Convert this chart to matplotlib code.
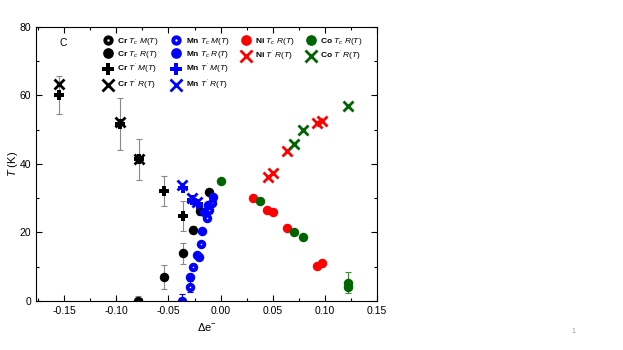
import matplotlib.pyplot as plt

plt.rcParams['font.family'] = ['Liberation Sans', 'DejaVu Sans']
plt.rcParams['mathtext.fontset'] = 'custom'
plt.rcParams['mathtext.it'] = 'Liberation Sans:italic'
plt.rcParams['mathtext.rm'] = 'Liberation Sans'

# Cr
cr_tc_m_x = [-0.079]
cr_tc_m_y = [0.1]
cr_tc_r_x = [-0.054, -0.036, -0.026, -0.020, -0.0113]
cr_tc_r_y = [7.0, 13.9, 20.8, 26.2, 31.8]
cr_tc_r_err = [3.5, 3.0, 1.0, 1.0, 1.0]
cr_tp_m_x = [-0.155, -0.097, -0.078, -0.054, -0.036]
cr_tp_m_y = [60.1, 51.6, 41.4, 32.1, 24.9]
cr_tp_m_err = [5.6, 7.6, 6.0, 4.5, 4.4]
cr_tp_r_x = [-0.155, -0.097, -0.078]
cr_tp_r_y = [63.3, 52.3, 41.4]

# Mn
mn_tc_m_x = [-0.029, -0.026, -0.0186, -0.013, -0.0115, -0.0084]
mn_tc_m_y = [4.2, 9.8, 16.5, 24.1, 26.5, 28.7]
mn_tc_r_x = [-0.037, -0.029, -0.0227, -0.0205, -0.018, -0.0164, -0.0117, -0.0069]
mn_tc_r_y = [0.1, 7.1, 13.4, 12.9, 20.4, 26.0, 28.0, 30.4]
mn_tp_m_x = [-0.036, -0.027, -0.022]
mn_tp_m_y = [33.0, 29.6, 28.4]
mn_tp_r_x = [-0.037, -0.0275, -0.0227]
mn_tp_r_y = [33.8, 30.2, 28.9]

# Ni
ni_tc_r_x = [0.0312, 0.045, 0.0503, 0.0636, 0.0925, 0.097]
ni_tc_r_y = [30.1, 26.6, 25.9, 21.4, 10.3, 11.1]
ni_tp_r_x = [0.0455, 0.0503, 0.0636, 0.0922, 0.097]
ni_tp_r_y = [36.2, 37.5, 43.7, 52.1, 52.5]

# Co
co_tc_r_x = [0.0, 0.0376, 0.0703, 0.0789, 0.1223, 0.1223]
co_tc_r_y = [35.0, 29.1, 20.0, 18.7, 5.4, 4.2]
co_tp_r_x = [0.0709, 0.0795, 0.1223]
co_tp_r_y = [45.7, 49.8, 56.9]

fig = plt.figure(figsize=(6.23, 3.5), dpi=100)
ax = fig.add_axes([0.058, 0.14, 0.547, 0.783])

ms_c = 5.8
ms_o = 4.0
mw_o = 2.8
ms_p = 7
ms_x = 7.5
mw_x = 2.0
ecol = '#888888'
green = '#006400'

# error bars
eb = dict(fmt='none', elinewidth=0.8, capsize=2.5, capthick=0.8, zorder=1)
ax.errorbar(cr_tp_m_x, cr_tp_m_y, yerr=cr_tp_m_err, ecolor=ecol, **eb)
ax.errorbar(cr_tc_r_x, cr_tc_r_y, yerr=cr_tc_r_err, ecolor=ecol, **eb)
ax.errorbar(cr_tc_m_x, cr_tc_m_y, yerr=[[0], [1.5]], ecolor=ecol, **eb)
ax.errorbar([co_tc_r_x[4]], [co_tc_r_y[4]], yerr=[3.0], ecolor='#3a8a3a', **eb)
ax.errorbar([mn_tc_m_x[0]], [mn_tc_m_y[0]], yerr=[1.5], ecolor='blue', **eb)
ax.errorbar([mn_tc_r_x[0]], [mn_tc_r_y[0]], yerr=[[0], [1.8]], ecolor='blue', **eb)

h = []
h.append(ax.plot(cr_tc_m_x, cr_tc_m_y, 'o', ms=ms_o, mfc='white', mec='black', mew=mw_o,
                 ls='none', label=r'Cr $T_c$ $M(T)$')[0])
h.append(ax.plot(cr_tc_r_x, cr_tc_r_y, 'o', ms=ms_c, color='black', ls='none',
                 label=r'Cr $T_c$ $R(T)$')[0])
h.append(ax.plot(cr_tp_m_x, cr_tp_m_y, 'P', ms=ms_p, color='black', mew=0, ls='none',
                 label=r"Cr $T^{'}$ $M(T)$")[0])
h.append(ax.plot(cr_tp_r_x, cr_tp_r_y, 'x', ms=ms_x, color='black', mew=mw_x, ls='none',
                 label=r"Cr $T^{'}$ $R(T)$")[0])

h.append(ax.plot(mn_tc_m_x, mn_tc_m_y, 'o', ms=ms_o, mfc='white', mec='blue', mew=mw_o,
                 ls='none', label=r'Mn $T_c$ $M(T)$')[0])
h.append(ax.plot(mn_tc_r_x, mn_tc_r_y, 'o', ms=ms_c, color='blue', ls='none',
                 label=r'Mn $T_c$ $R(T)$')[0])
h.append(ax.plot(mn_tp_m_x, mn_tp_m_y, 'P', ms=ms_p, color='blue', mew=0, ls='none',
                 label=r"Mn $T^{'}$ $M(T)$")[0])
h.append(ax.plot(mn_tp_r_x, mn_tp_r_y, 'x', ms=ms_x, color='blue', mew=mw_x, ls='none',
                 label=r"Mn $T^{'}$ $R(T)$")[0])

h.append(ax.plot(ni_tc_r_x, ni_tc_r_y, 'o', ms=ms_c, color='red', ls='none',
                 label=r'Ni $T_c$ $R(T)$')[0])
h.append(ax.plot(ni_tp_r_x, ni_tp_r_y, 'x', ms=ms_x, color='red', mew=mw_x, ls='none',
                 label=r"Ni $T^{'}$ $R(T)$")[0])

h.append(ax.plot(co_tc_r_x, co_tc_r_y, 'o', ms=ms_c, color=green, ls='none',
                 label=r'Co $T_c$ $R(T)$')[0])
h.append(ax.plot(co_tp_r_x, co_tp_r_y, 'x', ms=ms_x, color=green, mew=mw_x, ls='none',
                 label=r"Co $T^{'}$ $R(T)$")[0])

# legend as 4 columns, placed by hand
cols = [h[0:4], h[4:8], h[8:10], h[10:12]]
col_x = [0.18, 0.38, 0.585, 0.775]
for cx, group in zip(col_x, cols):
    leg = ax.legend(handles=group, loc='upper left', bbox_to_anchor=(cx, 0.99),
                    frameon=False, prop={'size': 6, 'weight': 'bold'}, handlelength=1.0,
                    handletextpad=0.6, labelspacing=0.2, borderaxespad=0.4,
                    numpoints=1, markerscale=1.15)
    ax.add_artist(leg)
ax.legend_ = None

ax.text(0.08, 0.94, 'C', transform=ax.transAxes, fontsize=7.5, ha='center', va='center')

ax.set_xlim(-0.177, 0.15)
ax.set_ylim(0, 80)
ax.set_xticks([-0.15, -0.10, -0.05, 0.00, 0.05, 0.10, 0.15])
ax.set_xticklabels(['-0.15', '-0.10', '-0.05', '0.00', '0.05', '0.10', '0.15'])
ax.set_yticks([0, 20, 40, 60, 80])
ax.set_xticks([-0.175, -0.125, -0.075, -0.025, 0.025, 0.075, 0.125], minor=True)
ax.set_yticks([10, 30, 50, 70], minor=True)
ax.tick_params(which='both', direction='in', top=True, right=True, labelsize=7.5,
               width=0.8)
ax.tick_params(which='major', length=4)
ax.tick_params(which='minor', length=2.5)
for s in ax.spines.values():
    s.set_linewidth(0.8)

ax.set_xlabel(r'$\Delta\mathregular{e}^{-}$', fontsize=8, labelpad=4)
ax.set_ylabel(r'$T$ (K)', fontsize=8, labelpad=0)

fig.text(0.921, 0.048, '1', fontsize=5, color='#999999', ha='center')

fig.savefig('out.png', dpi=100)
